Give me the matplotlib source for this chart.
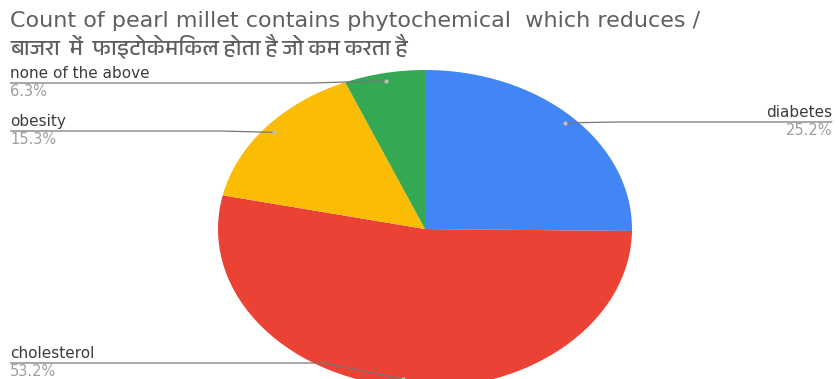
import matplotlib
matplotlib.use("Agg")
import matplotlib.pyplot as plt
from matplotlib import font_manager
import numpy as np

labels = ["diabetes", "cholesterol", "obesity", "none of the above"]
values = [25.2, 53.2, 15.3, 6.3]
colors = ["#4285F4", "#EA4335", "#FBBC04", "#34A853"]
title_en = "Count of pearl millet contains phytochemical  which reduces /"
title_hi = "बाजरा  में  फाइटोकेमिकल होता है जो कम करता है"

# look for a font that can draw Devanagari
names = sorted({f.name for f in font_manager.fontManager.ttflist})
deva = [n for n in names if "Devanagari" in n or "Lohit" in n or "Mangal" in n]

fig = plt.figure(figsize=(8.39, 3.79), dpi=100)
ax = fig.add_axes([0, 0, 1, 1])

wedges, _ = ax.pie(values, colors=colors, startangle=90, counterclock=False,
                   wedgeprops=dict(linewidth=0))
ax.set_aspect("auto")
# pie is stretched sideways like the original
ax.set_xlim(-425 / 207, 414 / 207)
ax.set_ylim(-150 / 159, 229 / 159)
ax.axis("off")

xl = ax.get_xlim()
ylim = ax.get_ylim()
line_col = "#777777"

# label layout: (side, y in axes fraction)
layout = {
    "diabetes": ("right", 1 - 122 / 379),
    "cholesterol": ("left", 1 - 363 / 379),
    "obesity": ("left", 1 - 131 / 379),
    "none of the above": ("left", 1 - 83 / 379),
}

for w, lab, v in zip(wedges, labels, values):
    ang = np.deg2rad((w.theta1 + w.theta2) / 2)
    dx, dy = 0.95 * np.cos(ang), 0.95 * np.sin(ang)
    side, yf = layout[lab]
    yd = ylim[0] + yf * (ylim[1] - ylim[0])
    if side == "left":
        xe = xl[0] + 0.012 * (xl[1] - xl[0])
        ha = "left"
    else:
        xe = xl[0] + 0.992 * (xl[1] - xl[0])
        ha = "right"
    # run flat, then bend to the dot
    xm = xe + 0.8 * (dx - xe)
    ax.plot([xe, xm, dx], [yd, yd, dy], color=line_col, lw=0.9,
            solid_capstyle="butt")
    ax.plot(dx, dy, "o", ms=3, color="#bdbdbd", mec="none")
    ax.annotate(lab, (xe, yd), xytext=(0, 1.5), textcoords="offset points",
                ha=ha, va="bottom", fontsize=11, color="#3c3c3c")
    ax.annotate(f"{v}%", (xe, yd), xytext=(0, -1.0), textcoords="offset points",
                ha=ha, va="top", fontsize=10.5, color="#9e9e9e")

fig.text(10 / 839, 1 - 27 / 379, title_en, fontsize=16, color="#5f5f5f",
         ha="left", va="baseline", family="DejaVu Sans")
fig.text(10 / 839, 1 - 54 / 379, title_hi, fontsize=16, color="#5f5f5f",
         ha="left", va="baseline", family=deva + ["DejaVu Sans"])

fig.savefig("out.png", dpi=100)
